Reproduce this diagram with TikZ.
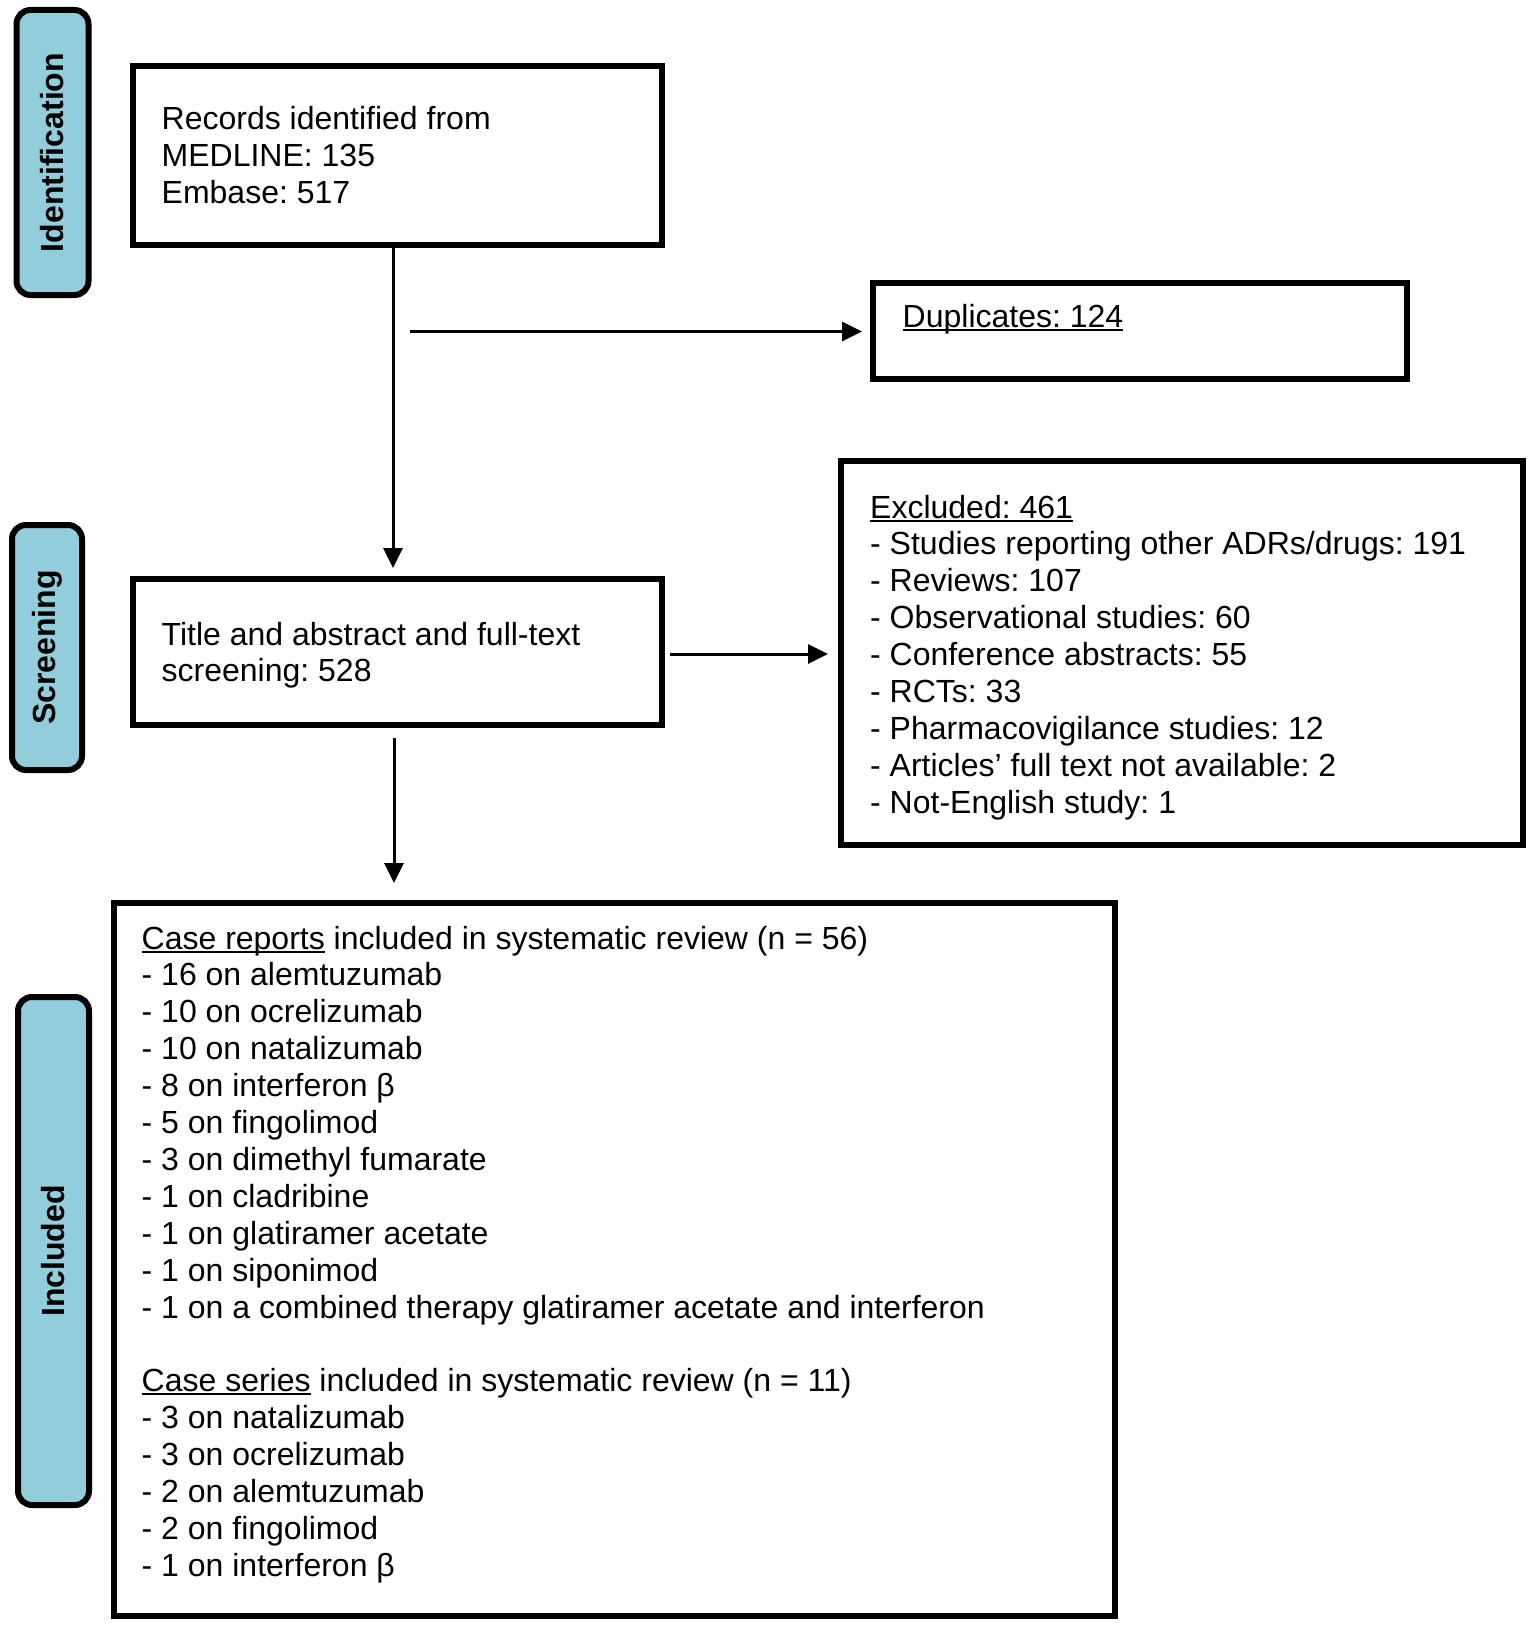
\documentclass[tikz,border=0pt]{standalone}
\usepackage{fontspec}
\setmainfont{Liberation Sans}
\usetikzlibrary{arrows.meta}
\definecolor{tabblue}{RGB}{146,205,220}
\newcommand\ulText[1]{\setbox0\hbox{#1}\rlap{\rule[-3.5pt]{\wd0}{2pt}}\box0\relax}
\frenchspacing
\begin{document}
\frenchspacing
\begin{tikzpicture}[x=1pt,y=-1pt,
  boxnode/.style={draw=black, line width=6pt, rectangle, inner sep=0pt},
  tabnode/.style={draw=black, fill=tabblue, line width=6pt, rectangle, rounded corners=14pt, inner sep=0pt},
  tablabel/.style={rotate=90, font=\fontsize{32pt}{36.9pt}\selectfont\bfseries, inner sep=0pt},
  txt/.style={anchor=base west, inner sep=0pt, font=\fontsize{32pt}{36.9pt}\selectfont\frenchspacing},
  arr/.style={line width=3pt, -{Triangle[length=20pt,width=19pt]}}]
\useasboundingbox (0,0) rectangle (1535,1629);
\fill[white] (0,0) rectangle (1535,1629);

% phase tabs
\node[tabnode, minimum width=72pt, minimum height=285pt] (tabid) at (52.5,152.5) {};
\node[tablabel] (labid) at (tabid.center) {Identification};
\node[tabnode, minimum width=70pt, minimum height=245pt] (tabscr) at (47,647.5) {};
\node[tablabel] (labscr) at (tabscr.center) {Screening};
\node[tabnode, minimum width=71pt, minimum height=508pt] (tabinc) at (53.5,1251) {};
\node[tablabel] (labinc) at (tabinc.center) {Included};

% boxes
\node[boxnode, minimum width=529.5pt, minimum height=179pt] (box1) at (397.25,155.5) {};
\node[boxnode, minimum width=534pt, minimum height=96pt] (dup) at (1140,331) {};
\node[boxnode, minimum width=529.5pt, minimum height=146pt] (box2) at (397.25,652) {};
\node[boxnode, minimum width=682.5pt, minimum height=384.5pt] (exc) at (1181.75,652.75) {};
\node[boxnode, minimum width=1001pt, minimum height=713pt] (inc) at (614.5,1259.5) {};

% texts
\node[txt] (t1) at (161.5,130) {\begin{tabular}[t]{@{}l@{}}Records identified from\\MEDLINE: 135\\Embase: 517\end{tabular}};
\node[txt] (tdup) at (902.5,327.5) {\ulText{Duplicates: 124}};
\node[txt] (t2) at (161.5,645) {\begin{tabular}[t]{@{}l@{}}Title and abstract and full-text\\screening: 528\end{tabular}};
\node[txt] (texc) at (870,518) {\begin{tabular}[t]{@{}l@{}}\ulText{Excluded: 461}\\
- Studies reporting other ADRs/drugs: 191\\
- Reviews: 107\\
- Observational studies: 60\\
- Conference abstracts: 55\\
- RCTs: 33\\
- Pharmacovigilance studies: 12\\
- Articles’ full text not available: 2\\
- Not-English study: 1\end{tabular}};
\node[txt] (tinc) at (141.5,949) {\begin{tabular}[t]{@{}l@{}}\ulText{Case reports} included in systematic review (n = 56)\\
- 16 on alemtuzumab\\
- 10 on ocrelizumab\\
- 10 on natalizumab\\
- 8 on interferon β\\
- 5 on fingolimod\\
- 3 on dimethyl fumarate\\
- 1 on cladribine\\
- 1 on glatiramer acetate\\
- 1 on siponimod\\
- 1 on a combined therapy glatiramer acetate and interferon\\
\\
\ulText{Case series} included in systematic review (n = 11)\\
- 3 on natalizumab\\
- 3 on ocrelizumab\\
- 2 on alemtuzumab\\
- 2 on fingolimod\\
- 1 on interferon β\end{tabular}};

% connectors
\coordinate (tA1) at (393,568);
\draw[arr] (tA1 |- box1.south) -- (tA1);
\coordinate (sA2) at (410,331.5);
\coordinate (tA2) at (862,331.5);
\draw[arr] (sA2) -- (tA2);
\coordinate (sA3) at (669.5,654);
\coordinate (tA3) at (828,654);
\draw[arr] (sA3) -- (tA3);
\coordinate (sA4) at (394,738);
\coordinate (tA4) at (394,883);
\draw[arr] (sA4) -- (tA4);
\end{tikzpicture}
\end{document}
